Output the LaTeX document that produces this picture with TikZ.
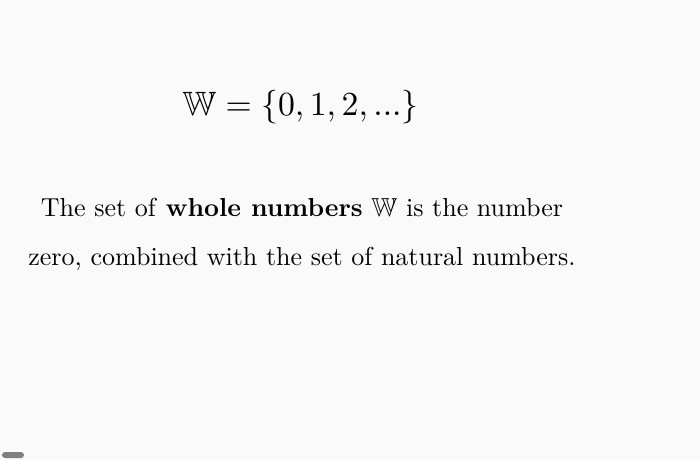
\RequirePackage{fix-cm}
\documentclass[tikz,border=0pt]{standalone}
\usepackage{amssymb}
\usepackage{fontspec}
\definecolor{bgcol}{HTML}{FAFAFA}
\definecolor{barcol}{HTML}{808080}
\tikzset{
  formula/.style={anchor=base, inner sep=0pt, font=\fontsize{10}{12}\selectfont},
  bodytext/.style={anchor=base, inner sep=0pt, font=\fontsize{10}{12}\selectfont}
}
\begin{document}
\begin{tikzpicture}[x=1pt,y=1pt]
\fill[bgcol] (0,0) rectangle (700,460);
\useasboundingbox (0,0) rectangle (700,460);
\node[formula] (eq) at (300.5,344) {\scalebox{3.37}{$\mathbb{W} = \{0, 1, 2, ...\}$}};
\node[bodytext] (l1) at (302,243.3) {\scalebox{2.6}{The set of \textbf{whole numbers} $\mathbb{W}$ is the number}};
\node[bodytext] (l2) at (302,194) {\scalebox{2.6}{zero, combined with the set of natural numbers.}};
\fill[barcol, rounded corners=3pt] (2,2) rectangle (24,8);
\end{tikzpicture}
\end{document}
